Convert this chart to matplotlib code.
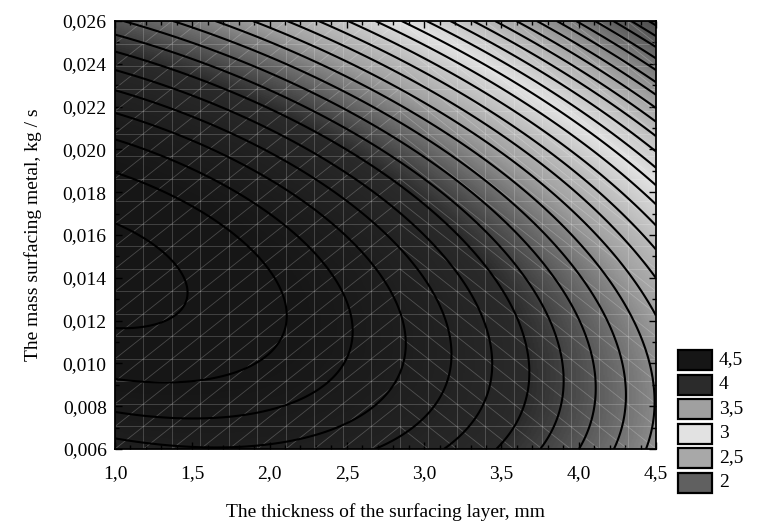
import numpy as np
import matplotlib
matplotlib.use("Agg")
import matplotlib.pyplot as plt
from matplotlib.colors import LinearSegmentedColormap
from matplotlib.ticker import MultipleLocator, FuncFormatter
from matplotlib.patches import Rectangle
from matplotlib.collections import LineCollection

plt.rcParams['font.family'] = ['Liberation Serif', 'DejaVu Serif']

# ---------------- data ----------------
thickness_range = [1.0, 4.5]          # mm
mass_range = [0.006, 0.026]           # kg/s
# fitted response surface: const, x, y, x^2, y^2, x*y
surface_terms = ['const', 'x', 'y', 'x2', 'y2', 'xy']
surface_coefs = [3.1571, 0.4167, 182.848, -0.090137, -5790.0, -19.570]
contour_levels = [round(v, 1) for v in np.arange(1.5, 4.75, 0.1)]
legend_levels = [4.5, 4.0, 3.5, 3.0, 2.5, 2.0]
legend_labels = ['4,5', '4', '3,5', '3', '2,5', '2']
legend_colors = ['#161616', '#2b2b2b', '#a0a0a0', '#e2e2e2', '#a8a8a8', '#606060']
x_ticks = [1.0, 1.5, 2.0, 2.5, 3.0, 3.5, 4.0, 4.5]
y_ticks = [0.006, 0.008, 0.010, 0.012, 0.014, 0.016, 0.018, 0.020, 0.022, 0.024, 0.026]
x_label = 'The thickness of the surfacing layer, mm'
y_label = 'The mass surfacing metal, kg / s'

# ---------------- surface ----------------
def surface(x, y):
    c = dict(zip(surface_terms, surface_coefs))
    return (c['const'] + c['x'] * x + c['y'] * y + c['x2'] * x ** 2
            + c['y2'] * y ** 2 + c['xy'] * x * y)

xs = np.linspace(thickness_range[0], thickness_range[1], 400)
ys = np.linspace(mass_range[0], mass_range[1], 400)
X, Y = np.meshgrid(xs, ys)
Z = surface(X, Y)

vmin, vmax = 1.5, 4.8
node_vals = [1.5] + legend_levels[::-1] + [4.8]
node_cols = ['#404040'] + legend_colors[::-1] + ['#181818']
cmap = LinearSegmentedColormap.from_list(
    'stat', [((v - vmin) / (vmax - vmin), c) for v, c in zip(node_vals, node_cols)])

W, H = 768, 521
fig = plt.figure(figsize=(W / 100, H / 100), dpi=100)
fig.patch.set_facecolor('white')
ax = fig.add_axes([115 / W, 1 - 449 / H, 541 / W, 428 / H])

ax.imshow(Z, extent=[xs[0], xs[-1], ys[0], ys[-1]], origin='lower', aspect='auto',
          cmap=cmap, vmin=vmin, vmax=vmax, interpolation='bilinear', zorder=1)

# mesh overlay (light lines of the triangulated surface)
n = 19
gx = np.linspace(thickness_range[0], thickness_range[1], n + 1)
gy = np.linspace(mass_range[0], mass_range[1], n + 1)
segs = []
for xv in gx[1:-1]:
    segs.append([(xv, gy[0]), (xv, gy[-1])])
for yv in gy[1:-1]:
    segs.append([(gx[0], yv), (gx[-1], yv)])
for i in range(n):
    for j in range(n):
        if i < 10:
            segs.append([(gx[i], gy[j]), (gx[i + 1], gy[j + 1])])
        else:
            segs.append([(gx[i], gy[j + 1]), (gx[i + 1], gy[j])])
ax.add_collection(LineCollection(segs, colors='white', linewidths=0.6, alpha=0.22, zorder=2))

ax.contour(X, Y, Z, levels=contour_levels, colors='black', linewidths=1.5, zorder=3)

ax.set_xlim(thickness_range)
ax.set_ylim(mass_range)
ax.set_xticks(x_ticks)
ax.set_yticks(y_ticks)
ax.xaxis.set_minor_locator(MultipleLocator(0.1))
ax.yaxis.set_minor_locator(MultipleLocator(0.001))
ax.xaxis.set_major_formatter(FuncFormatter(lambda v, p: f'{v:.1f}'.replace('.', ',')))
ax.yaxis.set_major_formatter(FuncFormatter(lambda v, p: f'{v:.3f}'.replace('.', ',')))
ax.tick_params(which='both', direction='in', top=True, right=True, color='black',
               labelsize=14)
ax.tick_params(axis='x', which='major', pad=11.5)
ax.tick_params(axis='y', which='major', pad=6)
ax.tick_params(which='major', length=5, width=1)
ax.tick_params(which='minor', length=3, width=1)
for s in ax.spines.values():
    s.set_linewidth(1.3)
    s.set_zorder(5)
ax.set_xlabel(x_label, fontsize=14, labelpad=15)
ax.set_ylabel(y_label, fontsize=14, labelpad=15)

# legend
sw_x, sw_w, sw_h, pitch, top0 = 678, 34, 20, 24.5, 350
for k, (lab, col) in enumerate(zip(legend_labels, legend_colors)):
    y0 = top0 + k * pitch
    fig.patches.append(Rectangle((sw_x / W, 1 - (y0 + sw_h) / H), sw_w / W, sw_h / H,
                                 transform=fig.transFigure, facecolor=col,
                                 edgecolor='black', linewidth=1.6))
    fig.text(719 / W, 1 - (y0 + sw_h / 2) / H, lab, fontsize=14, va='center', ha='left')

fig.savefig('out.png', dpi=100)
